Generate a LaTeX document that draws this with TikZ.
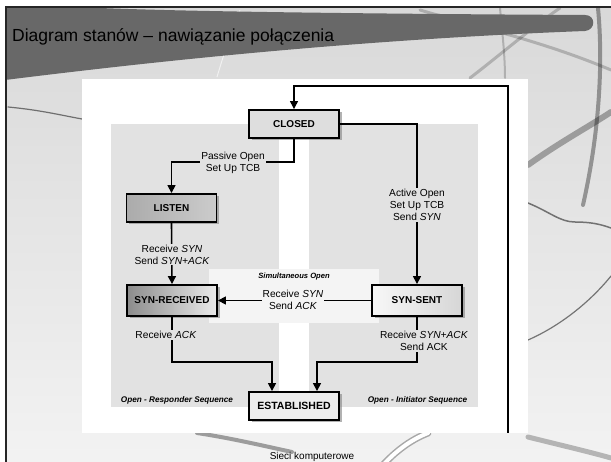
\documentclass[tikz,border=0pt]{standalone}
\usepackage{fontspec}
\setmainfont{Liberation Sans}
\usetikzlibrary{arrows.meta,shadows,calc}

\definecolor{bandgray}{HTML}{686868}
\definecolor{panelgray}{HTML}{E2E2E2}
\definecolor{simgray}{HTML}{F4F4F4}

\tikzset{
  state/.style={draw=black, line width=1.9pt, minimum width=90pt, minimum height=28pt,
    inner sep=0pt, font=\fontsize{10}{12}\selectfont\bfseries,
    drop shadow={shadow xshift=2.5pt, shadow yshift=-2.5pt, fill=black!50, opacity=0.6}},
  conn/.style={line width=1.6pt, draw=black},
  arr/.style={conn, -{Triangle[length=8pt,width=8pt]}},
  lbl/.style={font=\fontsize{10.2}{11.8}\selectfont, align=center, inner sep=1pt},
  seqlbl/.style={font=\fontsize{8.2}{10}\selectfont\bfseries\itshape},
  swoosh/.style={line cap=round, draw=black},
}

\begin{document}
\begin{tikzpicture}[x=1pt,y=-1pt]
\useasboundingbox (0,0) rectangle (611,462);
\clip (0,0) rectangle (611,462);
\fill[white] (0,0) rectangle (611,462);

% slide background
\shade[top color=black!15, bottom color=black!5] (5,7) rectangle (611,462);

% background swooshes
\draw[swoosh, line width=1.2pt, opacity=0.5] (8,107) .. controls (40,110) and (60,115) .. (82,119);
\draw[swoosh, line width=4pt, opacity=0.35] (598,8) .. controls (603,60) and (600,130) .. (583,205);
\draw[swoosh, line width=6pt, opacity=0.3] (528,165) .. controls (560,142) and (590,126) .. (611,112);
\draw[swoosh, line width=1.5pt, opacity=0.5] (528,203) .. controls (550,212) and (560,222) .. (575,222) .. controls (590,222) and (600,224) .. (611,228);
\draw[swoosh, line width=1.2pt, opacity=0.5] (528,340) .. controls (560,326) and (590,302) .. (611,276);
\draw[swoosh, line width=3pt, opacity=0.2] (420,10) .. controls (470,25) and (540,40) .. (611,70);
\draw[swoosh, line width=3pt, opacity=0.2] (470,78) .. controls (500,55) and (535,25) .. (560,8);
\draw[swoosh, line width=2pt, opacity=0.2] (500,8) .. controls (502,30) and (505,55) .. (505,78);
\draw[white, line width=1pt, opacity=0.6] (217,77) .. controls (225,50) and (232,30) .. (240,10);
\draw[swoosh, line width=4pt, opacity=0.35] (197,433) .. controls (230,438) and (260,445) .. (292,452);
\draw[swoosh, line width=7pt, opacity=0.3] (383,465) .. controls (395,452) and (410,440) .. (428,433);
\draw[white, line width=4pt, line cap=round] (383,465) .. controls (395,452) and (410,440) .. (428,433);
\draw[swoosh, line width=5pt, opacity=0.25] (528,437) .. controls (560,445) and (590,452) .. (611,458);

% title band
\fill[bandgray] (5,8) -- (5,80) .. controls (150,62) and (350,40) .. (585,31)
  .. controls (596,30) and (596,15) .. (585,15) .. controls (400,14) and (200,12) .. (100,8) -- cycle;

% slide frame
\draw[black!85, line width=1.5pt] (5,7) -- (611,7);
\draw[black!85, line width=1.5pt] (6,7) -- (6,462);

\node[anchor=base west, font=\fontsize{17.5}{20}\selectfont, inner sep=0pt] (title) at (12,42)
  {Diagram stanów – nawiązanie połączenia};

% diagram area
\fill[white] (82,79) rectangle (528,433);
\fill[panelgray] (111,124) rectangle (279,407);
\fill[panelgray] (309,124) rectangle (478,407);
\fill[simgray] (209,269) rectangle (379,323);

% states
\node[state, fill=black!13] (closed) at (294,124) {CLOSED};
\node[state, left color=black!33, right color=black!20] (listen) at (171.5,208) {LISTEN};
\node[state, minimum height=31pt, left color=black!45, right color=black!8] (synrcvd) at (172,300.5) {SYN-RECEIVED};
\node[state, minimum height=31pt, left color=black!3, right color=black!16] (synsent) at (417,300.5) {SYN-SENT};
\node[state, fill=black!7, font=\fontsize{10.5}{12}\selectfont\bfseries] (estab) at (294,406) {ESTABLISHED};

% transitions
\coordinate (loopend) at (508,433);
\draw[arr, line width=1.3pt] (loopend) |- (closed.north |- 0,86) -- (closed.north);
\draw[arr] (closed.south) -- ++(0,23) -| (listen.north);
\draw[arr] (closed.east) -| (synsent.north);
\draw[arr] (listen.south) -- (synrcvd.north);
\draw[arr] (synsent.west) -- (synrcvd.east);
\draw[arr] (synrcvd.south) -- ++(0,45) -| ($(estab.north)+(-22,0)$);
\draw[arr] (synsent.south) -- ++(0,45) -| ($(estab.north)+(23,0)$);

% transition labels
\node[lbl, fill=panelgray] (lpassive) at (233,162.5) {Passive Open\\Set Up TCB};
\node[lbl, fill=panelgray] (lactive) at (417,205) {Active Open\\Set Up TCB\\Send \textit{SYN}};
\node[lbl, fill=panelgray] (llisten) at (172,254.5) {Receive \textit{SYN}\\Send \textit{SYN+ACK}};
\node[lbl, fill=simgray] (lsim) at (293,300) {Receive \textit{SYN}\\Send \textit{ACK}};
\node[lbl, fill=panelgray] (lrcvd) at (166,335) {Receive \textit{ACK}};
\node[lbl, fill=panelgray] (lsent) at (424,341) {Receive \textit{SYN+ACK}\\Send ACK};

% region captions
\node[seqlbl, font=\fontsize{7.6}{9}\selectfont\bfseries\itshape] (simcap) at (294,277) {Simultaneous Open};
\node[seqlbl] (respcap) at (177,400) {Open - Responder Sequence};
\node[seqlbl] (initcap) at (417.5,400) {Open - Initiator Sequence};

% footer
\node[anchor=base, font=\fontsize{10}{12}\selectfont, inner sep=0pt] (footer) at (312,460) {Sieci komputerowe};
\end{tikzpicture}
\end{document}
